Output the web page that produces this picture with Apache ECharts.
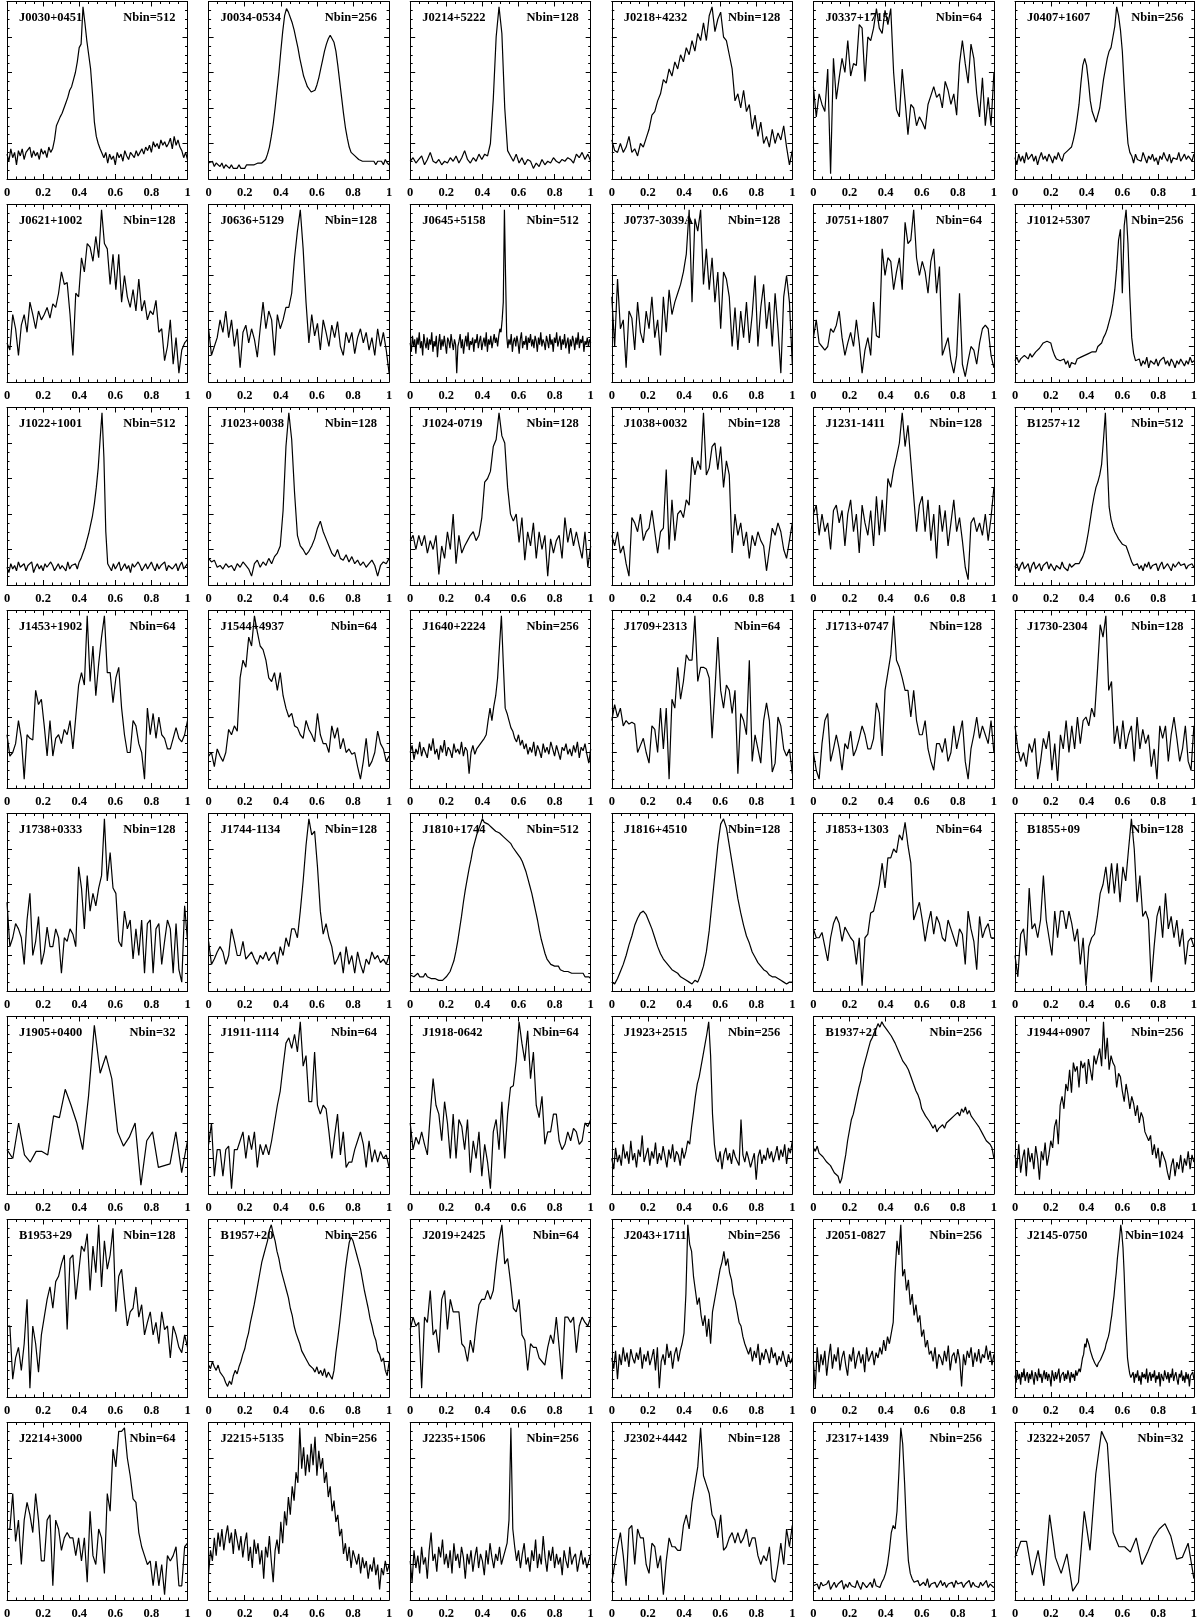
<!DOCTYPE html>
<html>
<head>
<meta charset="utf-8">
<script src="https://cdn.jsdelivr.net/npm/echarts@6/dist/echarts.min.js"></script>
<style>
  html, body { margin: 0; background: #fff; }
  #chart { width: 1200px; height: 1624px; }
</style>
</head>
<body>
<div id="chart"></div>
<script>
// phase axis tick labels
const phaseTicks = [0, 0.2, 0.4, 0.6, 0.8, 1]

// panel names and bin counts, row by row
const pulsars = [
  'J0030+0451', 'J0034-0534', 'J0214+5222', 'J0218+4232', 'J0337+1715', 'J0407+1607',
  'J0621+1002', 'J0636+5129', 'J0645+5158', 'J0737-3039A', 'J0751+1807', 'J1012+5307',
  'J1022+1001', 'J1023+0038', 'J1024-0719', 'J1038+0032', 'J1231-1411', 'B1257+12',
  'J1453+1902', 'J1544+4937', 'J1640+2224', 'J1709+2313', 'J1713+0747', 'J1730-2304',
  'J1738+0333', 'J1744-1134', 'J1810+1744', 'J1816+4510', 'J1853+1303', 'B1855+09',
  'J1905+0400', 'J1911-1114', 'J1918-0642', 'J1923+2515', 'B1937+21', 'J1944+0907',
  'B1953+29', 'B1957+20', 'J2019+2425', 'J2043+1711', 'J2051-0827', 'J2145-0750',
  'J2214+3000', 'J2215+5135', 'J2235+1506', 'J2302+4442', 'J2317+1439', 'J2322+2057'
]
const nbins = [
  512, 256, 128, 128, 64, 256,
  128, 128, 512, 128, 64, 256,
  512, 128, 128, 128, 128, 512,
  64, 64, 256, 64, 128, 128,
  128, 128, 512, 128, 64, 128,
  32, 64, 64, 256, 256, 256,
  128, 256, 64, 256, 256, 1024,
  64, 256, 256, 128, 256, 32
]

// profiles (percent of panel height)
const J0030_0451 = [14,10,17,12,15,8,16,13,17,11,15,14,18,12,16,13,15,11,17,14,16,12,18,15,17,22,30,31,35,37,40,43,46,50,52,56,60,66,74,76,97,88,78,70,62,48,32,24,20,17,16,12,15,9,14,11,13,8,15,12,14,10,16,13,11,15,14,12,16,13,15,17,14,18,16,19,15,21,18,20,17,22,19,21,18,20,23,17,24,19,22,18,16,12,15,11]
const J0034_0534 = [9,8,10,7,9,8,7,9,6,8,7,6,8,6,7,6,8,6,7,6,8,7,8,7,8,8,9,8,9,10,11,14,18,24,31,40,50,60,72,83,92,96,94,91,88,84,79,74,68,63,58,55,52,51,49,48,50,53,57,62,67,72,76,79,81,80,77,72,64,55,46,37,29,23,18,15,14,13,12,11,12,10,11,10,9,10,9,10,8,10,9,10,8,11,9,8]
const J0214_5222 = [10,12,9,11,13,8,11,15,10,9,11,8,10,9,12,10,13,9,12,16,11,9,12,10,14,11,14,13,20,45,80,97,82,40,16,13,10,14,9,12,8,11,10,6,9,7,11,8,10,9,12,10,9,11,10,12,11,9,14,12,15,11,14,10]
const J0218_4232 = [22,16,15,20,15,18,24,15,17,13,20,18,23,28,36,38,44,48,56,54,62,58,66,62,70,66,74,70,78,72,82,78,88,78,92,97,83,90,94,80,78,70,62,44,48,40,50,38,42,28,36,24,32,20,24,18,28,20,26,22,30,18,8,16]
const J0337_1715 = [52,35,48,42,38,62,3,68,45,57,68,60,78,58,65,64,87,85,55,80,78,85,96,85,82,95,87,96,60,39,35,62,44,25,42,40,30,35,32,28,42,47,52,46,48,40,55,50,42,48,36,65,78,65,54,76,68,48,35,57,30,46,30,60]
const J0407_1607 = [12,8,14,10,13,9,15,11,12,14,10,13,8,12,15,11,13,10,14,12,9,13,11,15,12,10,14,13,16,15,18,22,27,34,42,54,64,68,64,55,44,38,37,32,36,40,48,56,62,68,72,74,80,86,97,92,84,72,52,34,20,15,13,9,14,11,12,10,15,12,9,13,11,14,10,12,8,13,11,15,12,10,14,9,12,13,11,15,10,12,14,11,13,12,10,14]
const J0621_1002 = [22,18,38,30,15,32,38,28,45,38,30,40,35,38,42,36,44,42,50,62,55,56,38,15,50,48,70,62,78,76,68,82,70,97,78,75,55,72,52,72,45,60,48,42,52,40,58,40,46,35,40,38,46,28,30,12,20,35,10,25,5,18,22,24]
const J0636_5129 = [30,15,20,25,35,28,40,25,35,20,30,8,28,32,22,30,24,14,30,45,30,40,35,15,38,30,35,42,42,50,70,85,97,75,45,22,38,26,33,18,35,28,20,32,25,34,20,15,28,22,28,16,25,30,22,28,18,25,15,30,20,28,18,5]
const J0645_5158 = [22,17,26,20,24,16,25,21,28,19,23,15,27,22,19,25,18,24,21,28,17,23,20,26,14,22,27,18,24,20,26,21,16,25,23,19,27,22,18,24,21,5,20,23,27,19,24,16,22,26,20,28,18,23,21,25,17,24,22,27,19,23,26,18,22,25,20,28,17,24,21,26,19,23,27,22,25,20,26,30,28,35,45,97,60,26,19,24,21,27,17,23,25,20,26,22,16,24,28,19,23,21,26,18,25,22,27,20,24,19,26,23,17,25,21,28,20,24,22,18,26,23,19,27,21,24,17,25,22,28,20,23,26,18,24,21,27,19,22,25,16,24,20,26,23,18,25,21,28,19,24,22,26,17,23,21,25,20,24,22]
const J0737_3039A = [48,20,58,30,35,8,40,36,18,45,28,22,40,30,48,25,35,15,48,28,52,38,45,50,55,62,72,97,45,92,85,97,55,75,52,70,45,62,30,62,58,48,20,42,18,40,25,45,22,38,60,20,42,55,30,45,20,50,30,5,48,60,45,10]
const J0751_1807 = [25,35,22,20,18,20,30,28,32,40,25,15,22,28,20,35,22,5,18,25,15,45,26,25,75,60,70,68,52,62,70,52,90,78,80,97,70,60,68,62,50,68,75,50,65,15,20,25,12,5,15,50,10,3,12,20,18,10,22,30,32,30,15,8]
const J1012_5307 = [12,14,11,13,12,15,14,13,16,14,15,17,18,19,20,22,21,23,24,22,18,15,13,14,12,11,13,10,12,8,11,12,10,13,12,14,13,15,14,16,15,17,18,17,20,21,22,25,27,30,34,38,44,52,64,80,86,50,88,97,78,48,25,16,12,11,13,9,12,10,14,8,12,11,10,13,9,12,11,14,10,12,9,13,11,8,12,10,13,11,9,12,10,14,11,12]
const J1022_1001 = [10,7,12,9,11,8,13,10,9,12,8,11,10,13,7,10,12,9,11,8,12,10,9,13,11,8,10,12,9,11,10,8,13,9,11,10,12,9,13,15,18,21,25,29,34,39,46,55,66,82,97,72,30,12,10,8,12,9,11,13,8,10,12,9,11,7,12,10,9,13,11,8,10,12,9,11,13,10,8,12,9,11,10,13,8,11,12,9,10,12,8,11,13,9,10,12]
const J1023_0038 = [15,13,14,10,11,9,12,10,11,8,12,10,13,11,9,5,12,14,10,13,11,15,12,16,18,22,42,78,97,82,52,28,22,20,17,19,22,26,32,36,30,26,22,18,16,20,15,14,17,13,16,12,14,11,13,10,12,14,11,5,11,13,12,15]
const J1024_0719 = [25,28,20,28,22,28,18,25,20,28,6,22,15,30,20,40,12,28,18,22,25,28,30,25,28,38,58,60,64,78,82,97,84,80,55,40,36,40,24,38,14,30,22,35,15,30,20,28,5,26,18,25,28,15,38,24,32,22,30,22,15,30,10,22]
const J1038_0032 = [28,22,30,18,22,12,5,38,35,30,40,25,30,32,42,30,18,30,32,65,20,48,25,40,42,38,48,45,72,62,70,65,97,62,66,78,80,65,78,55,70,62,18,40,28,35,22,30,15,28,22,30,25,22,8,20,32,28,35,30,20,15,25,35]
const J1231_1411 = [40,45,28,40,30,35,20,42,45,35,42,22,40,48,30,40,18,45,35,28,42,22,50,28,48,30,60,55,65,72,80,97,78,90,70,50,30,45,50,30,48,25,40,15,45,30,42,22,35,48,30,38,25,10,3,35,38,30,35,28,40,25,38,55]
const B1257_12 = [10,12,8,11,13,9,10,12,7,11,13,9,10,12,8,11,10,13,9,12,10,8,11,12,9,13,10,11,8,12,10,9,12,11,12,14,16,19,24,30,37,44,50,55,58,62,68,82,97,70,44,37,33,30,28,26,25,23,24,22,19,16,13,11,10,12,9,11,8,12,10,13,9,11,10,12,8,11,13,9,10,12,11,8,12,10,9,13,11,10,12,9,11,10,12,10]
const J1453_1902 = [30,18,20,25,38,28,5,30,28,27,55,47,50,35,18,38,18,28,30,25,33,30,38,22,40,58,65,58,97,60,80,52,70,85,97,65,65,48,62,68,45,30,20,20,38,35,25,20,5,45,30,42,28,40,30,28,22,22,28,34,28,26,30,38]
const J1544_4937 = [18,20,12,22,18,15,20,33,30,35,32,62,72,68,85,80,97,88,80,78,72,62,60,65,55,65,52,45,40,42,35,34,30,28,38,33,30,26,42,30,25,25,20,35,28,34,22,28,20,22,19,20,12,5,15,28,12,15,20,32,25,22,15,18]
const J1640_2224 = [20,24,16,22,19,26,18,23,20,17,25,21,28,19,22,16,24,20,27,18,23,21,17,25,20,22,19,26,18,23,21,8,20,24,19,22,22,25,24,28,30,38,45,38,46,52,62,80,97,70,45,42,38,34,32,28,26,30,24,27,22,25,19,23,20,26,18,24,21,17,25,20,23,19,26,22,18,24,20,16,23,21,25,19,22,18,24,20,26,17,23,21,25,19,14,22]
const J1709_2313 = [38,47,40,45,35,38,36,37,36,20,24,28,20,14,35,33,20,45,22,45,5,50,45,68,50,60,75,72,72,97,60,68,68,67,62,28,55,85,55,45,58,55,42,55,8,42,38,30,72,15,30,22,14,38,48,38,9,14,40,35,22,18,22,8]
const J1713_0747 = [20,10,5,25,38,42,15,22,30,22,10,25,22,32,18,22,28,35,30,22,22,28,48,42,18,55,65,75,97,72,68,62,55,55,40,55,38,30,30,38,22,15,10,25,25,20,28,15,20,35,22,30,38,15,5,22,30,40,28,35,30,25,38,20]
const J1730_2304 = [35,22,15,20,12,25,20,28,5,15,28,22,32,10,25,4,30,22,38,20,35,22,40,25,38,40,35,45,40,65,92,85,97,55,60,25,35,22,38,22,30,35,15,40,22,33,25,30,12,22,5,35,28,35,15,30,40,28,15,22,35,15,10,35]
const J1738_0333 = [50,25,30,38,35,30,15,40,55,20,28,42,15,22,36,25,25,35,30,10,30,28,35,32,25,70,58,35,65,45,55,48,58,65,97,62,78,58,55,28,25,45,35,40,18,35,20,40,10,38,40,10,35,38,15,28,40,35,10,38,12,5,48,28]
const J1744_1134 = [28,15,18,22,25,22,15,20,35,28,20,20,28,18,20,22,18,15,20,18,22,17,20,22,15,25,20,30,25,35,35,30,45,62,82,97,88,90,70,45,32,38,30,25,15,18,22,10,25,15,20,10,22,15,10,18,15,22,18,20,16,18,15,20]
const J1810_1744 = [9,10,8,9,10,8,9,8,10,8,9,7,8,7,8,6,7,6,7,8,8,11,14,17,22,28,35,42,50,57,63,69,74,80,84,88,91,94,97,95,94,94,93,92,91,90,89,89,88,87,86,85,84,83,81,80,78,77,75,73,70,67,63,59,55,50,45,40,34,29,25,21,18,17,15,15,14,13,14,12,13,11,12,11,12,10,11,10,9,10,9,10,8,9,8,7]
const J1816_4510 = [5,4,7,11,15,20,26,31,37,41,44,45,43,39,35,30,25,21,18,16,14,12,11,10,8,7,6,5,4,6,5,9,14,22,34,50,66,82,94,97,92,82,72,62,52,44,37,31,27,22,19,16,14,12,11,9,8,8,7,6,5,4,5,5]
const J1853_1303 = [35,30,30,33,25,17,30,38,42,38,28,36,33,30,28,15,30,3,30,32,44,45,52,60,72,58,75,75,80,78,88,85,95,82,72,40,45,50,40,28,38,45,32,42,38,30,28,40,35,30,25,35,32,15,45,35,28,12,42,30,35,38,30,30]
const B1855_09 = [20,8,32,35,20,58,35,38,30,40,65,40,30,20,45,30,45,45,35,45,38,28,35,15,30,3,25,30,32,42,55,60,70,55,72,55,72,50,70,62,80,97,80,50,65,42,45,40,5,25,42,48,30,55,35,42,30,40,25,35,15,28,30,25]
const J1905_0400 = [25,20,40,22,18,24,24,22,44,43,59,50,40,25,55,95,68,78,65,35,27,32,40,5,30,35,15,16,17,35,12,30]
const J1911_1114 = [28,40,10,25,25,10,25,27,3,25,25,30,35,20,33,25,35,15,28,22,28,22,30,40,50,58,72,85,88,82,90,80,97,72,78,52,52,80,50,45,50,48,35,20,33,45,22,35,15,18,18,25,30,35,28,15,30,18,25,18,24,20,22,15]
const J1918_0642 = [40,25,32,28,35,28,22,45,65,50,45,30,52,40,20,45,20,42,38,25,42,12,30,20,35,10,28,18,3,35,42,25,52,20,45,60,61,75,97,85,75,92,65,80,50,43,55,28,35,35,45,45,30,25,28,35,30,37,35,28,30,40,38,42]
const J1923_2515 = [20,14,26,18,22,16,28,20,24,17,30,19,23,15,25,21,33,18,22,26,16,24,20,29,17,23,19,27,21,15,25,20,28,18,24,22,16,26,20,24,30,28,38,46,55,62,66,72,78,84,90,97,78,45,28,20,18,24,14,22,26,19,23,17,25,21,20,16,42,22,18,24,20,15,19,23,8,21,25,17,22,19,26,20,24,18,22,27,19,25,21,28,17,26,23,30]
const B1937_21 = [26,24,27,23,24,21,22,18,19,16,15,12,13,10,6,9,16,22,30,36,42,45,50,55,60,64,70,74,78,82,86,88,91,93,96,94,97,95,96,92,93,89,88,85,84,80,79,75,76,72,70,67,66,61,58,56,53,48,47,44,45,41,40,37,39,35,37,36,39,37,40,39,42,41,44,43,46,44,48,46,49,45,47,44,45,41,42,38,37,34,33,30,31,28,26,20]
const J1944_0907 = [22,15,28,12,20,25,10,26,18,23,14,27,20,8,24,19,29,16,22,30,26,38,42,28,50,55,48,62,58,70,57,74,69,72,60,75,71,74,62,76,70,64,78,73,74,82,72,97,76,88,70,78,74,72,60,68,66,58,52,62,56,48,55,51,44,50,40,46,43,35,36,30,33,22,28,20,26,15,24,25,18,12,8,16,20,10,18,14,22,12,20,16,24,14,22,18]
const B1953_29 = [40,40,10,22,28,15,30,55,5,40,30,14,35,45,55,62,50,65,68,75,80,38,78,80,55,70,85,82,92,60,85,70,97,62,88,72,80,95,48,68,72,55,40,48,50,62,45,52,35,42,48,35,42,30,48,38,40,22,40,35,28,25,35,28]
const B1957_20 = [18,16,20,17,15,18,14,13,11,8,6,9,7,12,15,13,17,20,24,27,32,36,42,47,52,58,64,70,76,80,84,88,94,97,92,88,82,78,72,68,64,60,56,50,46,40,36,33,30,26,24,22,21,18,19,16,14,17,13,15,12,16,11,14,12,10,15,25,33,42,52,62,72,80,87,90,88,84,80,76,72,66,60,55,50,44,40,35,32,26,24,20,22,15,12,20]
const J2019_2425 = [38,45,40,42,5,45,42,60,35,38,25,55,60,38,55,48,48,48,30,28,20,32,25,40,52,55,55,60,55,60,75,88,97,75,78,65,50,48,55,35,32,15,30,28,28,22,20,18,28,35,30,45,28,10,45,45,42,45,25,40,45,42,40,45]
const J2043_1711 = [22,16,26,10,24,18,28,20,25,17,27,22,19,25,21,28,16,24,20,26,18,22,27,15,28,5,20,24,18,30,22,26,16,24,28,20,26,30,36,58,97,86,82,68,60,52,56,46,40,46,34,44,30,48,54,60,66,72,76,82,74,78,70,66,58,54,48,42,40,34,30,27,24,28,20,26,22,30,18,25,21,27,24,19,28,22,25,18,23,20,26,21,17,24,19,22]
const J2051_0827 = [20,5,28,14,24,18,26,12,22,30,16,24,20,28,15,22,26,18,12,24,20,28,16,22,26,19,24,14,28,20,23,26,18,25,22,28,24,32,26,34,30,36,42,70,88,80,97,68,72,60,66,52,58,46,52,42,46,34,38,28,32,24,26,20,28,16,24,22,18,26,20,29,15,23,25,19,27,21,6,24,18,26,22,28,17,25,20,27,19,24,22,29,21,26,18,24]
const J2145_0750 = [12,8,15,10,13,7,14,11,16,9,12,14,8,13,10,15,11,7,14,12,9,16,11,13,8,12,15,10,14,9,13,11,6,15,12,9,14,10,13,16,8,12,11,14,9,13,10,15,12,8,14,11,13,9,15,12,13,16,14,18,22,24,30,28,33,31,29,26,25,22,21,19,20,17,19,18,21,20,24,25,27,30,31,34,37,42,46,52,57,64,70,78,84,90,97,92,84,70,52,36,22,17,13,11,10,14,8,13,11,15,9,12,7,14,11,13,10,16,8,12,14,9,13,11,15,8,12,10,14,6,13,11,9,15,12,10,14,8,13,11,16,9,12,14,10,7,13,11,15,9,12,8,14,10,13,6,12,11,14,10]
const J2214_3000 = [40,40,60,33,45,20,45,55,48,38,60,45,22,22,45,48,8,45,40,28,35,38,35,35,25,35,22,35,10,50,25,20,40,35,15,60,50,85,75,95,95,97,80,70,57,55,38,30,25,20,22,8,22,8,20,3,25,22,25,30,8,8,30,32]
const J2215_5135 = [15,28,22,35,25,38,30,40,28,36,42,32,38,26,40,34,28,36,24,32,38,22,30,18,34,26,32,20,28,12,30,24,36,22,10,28,34,26,44,32,50,42,58,48,64,56,72,66,97,74,86,70,82,72,88,76,92,70,84,74,80,66,72,58,64,50,56,44,48,36,40,26,32,22,30,18,28,24,20,26,15,24,18,22,12,20,16,24,14,20,6,18,14,22,16,20]
const J2235_1506 = [22,10,28,18,25,15,30,20,24,12,28,38,22,26,16,30,24,34,20,26,18,28,15,32,22,26,18,30,24,12,26,20,28,16,24,30,18,26,22,14,28,20,32,24,18,26,22,30,20,24,28,32,45,97,40,30,22,28,18,26,32,20,24,16,28,22,34,18,26,20,36,24,16,28,22,30,18,26,20,24,14,28,22,18,30,20,24,26,16,22,28,20,24,18,22,26]
const J2302_4442 = [10,20,30,38,25,8,40,42,20,40,35,35,20,15,32,30,18,25,3,22,35,30,30,28,28,42,48,40,55,65,75,97,70,65,60,48,45,35,48,28,30,35,38,32,38,32,35,40,30,35,35,25,20,25,22,30,12,10,20,32,20,40,30,42]
const J2317_1439 = [8,7,9,6,10,8,7,9,11,6,8,10,7,9,8,11,6,9,7,10,8,9,7,11,8,6,10,9,7,8,10,7,12,8,9,7,10,12,15,20,28,38,42,40,50,72,97,88,66,40,22,15,12,10,9,11,8,7,10,8,12,7,9,8,10,7,9,11,8,10,7,9,8,10,7,11,9,8,10,7,9,8,11,7,10,8,9,7,10,8,9,11,7,9,8,7]
const J2322_2057 = [24,33,33,14,28,8,48,24,15,26,5,10,50,28,71,95,88,38,30,30,27,35,20,27,35,40,43,36,23,24,32,12]

const profiles = [
  J0030_0451, J0034_0534, J0214_5222, J0218_4232, J0337_1715, J0407_1607,
  J0621_1002, J0636_5129, J0645_5158, J0737_3039A, J0751_1807, J1012_5307,
  J1022_1001, J1023_0038, J1024_0719, J1038_0032, J1231_1411, B1257_12,
  J1453_1902, J1544_4937, J1640_2224, J1709_2313, J1713_0747, J1730_2304,
  J1738_0333, J1744_1134, J1810_1744, J1816_4510, J1853_1303, B1855_09,
  J1905_0400, J1911_1114, J1918_0642, J1923_2515, B1937_21, J1944_0907,
  B1953_29, B1957_20, J2019_2425, J2043_1711, J2051_0827, J2145_0750,
  J2214_3000, J2215_5135, J2235_1506, J2302_4442, J2317_1439, J2322_2057
]

const font = 'Liberation Serif'
const ink = '#000'
const W = 180.5, H = 177.5

const chart = echarts.init(document.getElementById('chart'))

const grid = [], xAxis = [], yAxis = [], series = [], title = []

profiles.forEach((prof, k) => {
  const row = Math.floor(k / 6), col = k % 6
  const left = 7 + col * 201.6
  const top = 1.5 + row * 203
  grid.push({ left, top, width: W, height: H })

  // box with inward ticks on all four sides, labels only on the bottom
  const tick = { inside: true, length: 5, lineStyle: { color: ink, width: 1 } }
  const minor = { show: true, splitNumber: 4, length: 2.5, lineStyle: { color: ink, width: 1 } }
  const line = { show: true, onZero: false, lineStyle: { color: ink, width: 1 } }
  for (const pos of ['bottom', 'top']) {
    xAxis.push({
      gridIndex: k, type: 'value', position: pos, min: 0, max: 1, interval: 0.2,
      axisLine: line, axisTick: tick, minorTick: minor, splitLine: { show: false },
      axisLabel: {
        show: pos === 'bottom', color: ink, fontFamily: font, fontSize: 12.5, fontWeight: 'bold', margin: 7,
        showMinLabel: true, showMaxLabel: true,
        formatter: v => String(phaseTicks.find(t => Math.abs(t - v) < 1e-6) ?? v)
      }
    })
  }
  for (const pos of ['left', 'right']) {
    yAxis.push({
      gridIndex: k, type: 'value', position: pos, min: 0, max: 100, interval: 20,
      axisLine: line, axisTick: tick, minorTick: minor, splitLine: { show: false },
      axisLabel: { show: false }
    })
  }

  series.push({
    type: 'line',
    xAxisIndex: 2 * k, yAxisIndex: 2 * k,
    data: prof.map((v, i) => [i / (prof.length - 1), v]),
    showSymbol: false, silent: true,
    lineStyle: { color: ink, width: 1.2 }
  })

  const ts = { fontFamily: font, fontSize: 12.5, fontWeight: 'bold', color: ink }
  title.push({ text: pulsars[k], left: left + 12, top: top + 10, padding: 0, textStyle: ts })
  title.push({ text: 'Nbin=' + nbins[k], right: 1200 - (left + W) + 12, top: top + 10, padding: 0, textStyle: ts })
})

chart.setOption({
  animation: false,
  backgroundColor: '#fff',
  title, grid, xAxis, yAxis, series
})
</script>
</body>
</html>
